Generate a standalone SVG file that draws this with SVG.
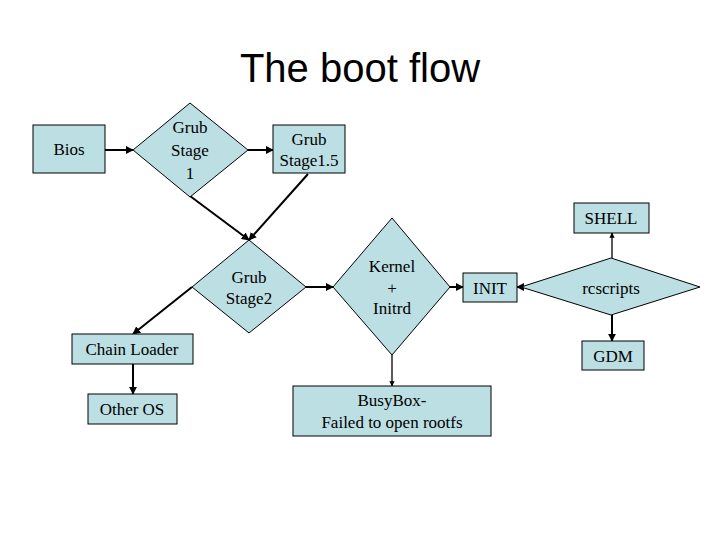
<svg xmlns="http://www.w3.org/2000/svg" width="720" height="540" viewBox="0 0 720 540">
<defs>
<style>
.n{fill:#bcdfe3;stroke:#000;stroke-width:1}
.t{font-family:"Liberation Serif",serif;font-size:17px;text-anchor:middle;fill:#000}
.c{stroke:#000;stroke-width:2;fill:none;marker-end:url(#a)}
</style>
<marker id="a" viewBox="0 0 10 10" refX="9" refY="5" markerWidth="4" markerHeight="4" orient="auto"><path d="M0,0L10,5L0,10z" fill="#000"/></marker>
</defs>
<rect width="720" height="540" fill="#fff"/>
<text x="360" y="82" font-family="Liberation Sans,sans-serif" font-size="40" text-anchor="middle">The boot flow</text>
<g id="connectors">
<line class="c" x1="105" y1="150" x2="133" y2="150"/>
<line class="c" x1="248" y1="150" x2="273" y2="150"/>
<line class="c" x1="190" y1="196" x2="249" y2="240"/>
<line class="c" x1="308" y1="174" x2="249" y2="240"/>
<line class="c" x1="192" y1="287" x2="133" y2="334"/>
<line class="c" x1="133" y1="364" x2="133" y2="394"/>
<line class="c" x1="306" y1="287" x2="333" y2="287"/>
<line class="c" x1="450" y1="287" x2="463" y2="287"/>
<line class="c" x1="521" y1="287" x2="517" y2="287"/>
<line class="c" x1="392" y1="355" x2="392" y2="386" style="stroke-width:1.3"/>
<line class="c" x1="612" y1="258" x2="612" y2="233" style="stroke-width:1.3"/>
<line class="c" x1="612" y1="315" x2="612" y2="341"/>
</g>
<g id="bios"><rect class="n" x="33" y="125" width="72" height="48"/><text class="t" x="69" y="155">Bios</text></g>
<g id="stage1"><polygon class="n" points="190,103 248,150 190,197 133,150"/><text class="t" x="190" y="133">Grub</text><text class="t" x="190" y="156">Stage</text><text class="t" x="190" y="179">1</text></g>
<g id="stage15"><rect class="n" x="273" y="125" width="72" height="48"/><text class="t" x="309" y="145">Grub</text><text class="t" x="309" y="166">Stage1.5</text></g>
<g id="stage2"><polygon class="n" points="249,240 306,287 249,333 192,287"/><text class="t" x="249" y="283">Grub</text><text class="t" x="249" y="304">Stage2</text></g>
<g id="chain"><rect class="n" x="72" y="334" width="121" height="30"/><text class="t" x="132" y="355">Chain Loader</text></g>
<g id="otheros"><rect class="n" x="88" y="394" width="89" height="30"/><text class="t" x="132" y="415">Other OS</text></g>
<g id="kernel"><polygon class="n" points="392,218 450,287 392,355 333,287"/><text class="t" x="392" y="272">Kernel</text><text class="t" x="392" y="294">+</text><text class="t" x="392" y="314">Initrd</text></g>
<g id="init"><rect class="n" x="463" y="273" width="54" height="29"/><text class="t" x="490" y="294">INIT</text></g>
<g id="rcscripts"><polygon class="n" points="611,258 700,287 611,315 521,287"/><text class="t" x="611" y="294">rcscripts</text></g>
<g id="shell"><rect class="n" x="574" y="203" width="75" height="30"/><text class="t" x="611" y="224">SHELL</text></g>
<g id="gdm"><rect class="n" x="582" y="341" width="62" height="29"/><text class="t" x="613" y="362">GDM</text></g>
<g id="busybox"><rect class="n" x="293" y="386" width="198" height="50"/><text class="t" x="392" y="406">BusyBox-</text><text class="t" x="392" y="428">Failed to open rootfs</text></g>
</svg>
